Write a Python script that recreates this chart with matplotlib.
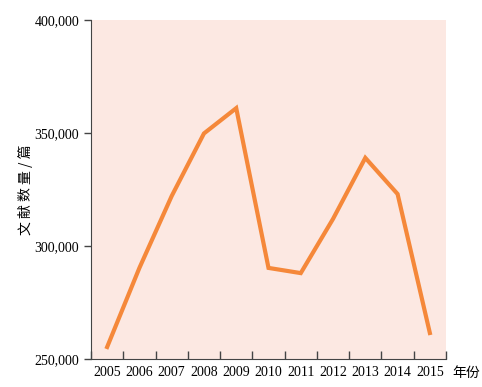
import numpy as np
import matplotlib
matplotlib.use('Agg')
import matplotlib.pyplot as plt
from matplotlib.ticker import FuncFormatter

### Data ###
#
years = ['2005', '2006', '2007', '2008', '2009', '2010',
         '2011', '2012', '2013', '2014', '2015']
counts = [255300, 290300, 322100, 349800, 361000, 290300,
          288000, 312000, 339000, 323000, 261500]

### Plot ###
#
plt.rcParams['font.family'] = ['Liberation Serif', 'Noto Sans CJK SC']

fig = plt.figure(figsize=(4.82, 3.87), dpi=100)
ax = fig.add_axes([0.1888, 0.0724, 0.7365, 0.8759])
ax.set_facecolor('#fce8e2')

x = np.arange(len(years))
ax.plot(x, counts, color='#f5883a', lw=3, solid_joinstyle='miter')

ax.set_xlim(-0.5, len(years) - 0.5)
ax.set_ylim(250000, 400000)
ax.set_yticks([250000, 300000, 350000, 400000])
ax.yaxis.set_major_formatter(FuncFormatter(lambda v, p: '{:,.0f}'.format(v)))

#category labels between boundary ticks
ax.set_xticks(np.arange(len(years) + 1) - 0.5)
ax.set_xticklabels([])
ax.set_xticks(x, minor=True)
ax.set_xticklabels(years, minor=True, fontsize=10)
ax.tick_params(axis='x', which='major', direction='in', length=6,
               color='#444444', width=1)
ax.tick_params(axis='x', which='minor', length=0, pad=5)
ax.tick_params(axis='y', direction='out', length=5, color='#444444',
               width=1, labelsize=10)

for s in ['top', 'right']:
    ax.spines[s].set_visible(False)
for s in ['left', 'bottom']:
    ax.spines[s].set_color('#444444')

ax.set_ylabel('文 献 数 量 / 篇', family=['Noto Sans CJK SC'], fontsize=10,
              labelpad=1)
ax.text(1.018, -0.04, '年份', transform=ax.transAxes, ha='left', va='center',
        family=['Noto Sans CJK SC'], fontsize=10)

fig.savefig('out.png', dpi=100)
